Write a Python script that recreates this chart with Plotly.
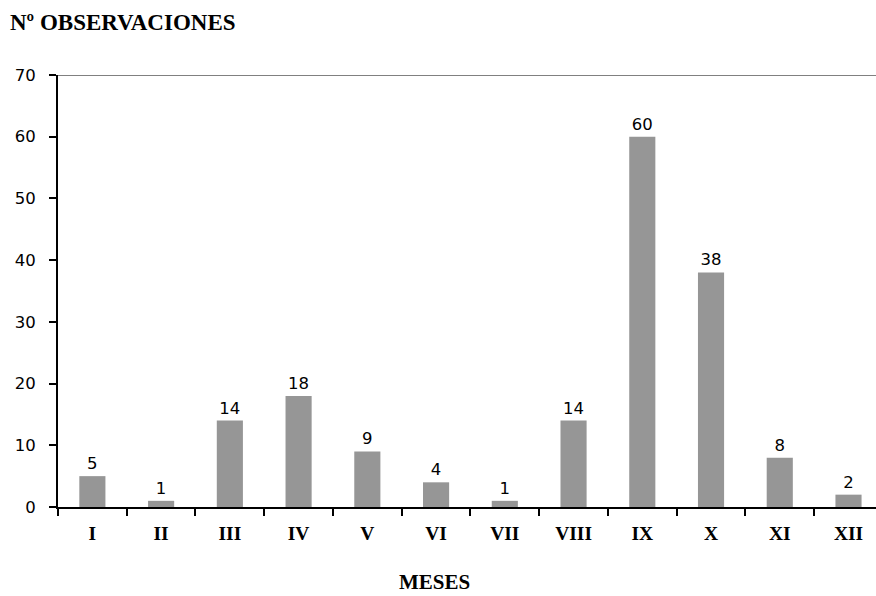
import plotly.graph_objects as go

meses = ["I", "II", "III", "IV", "V", "VI", "VII", "VIII", "IX", "X", "XI", "XII"]
observaciones = [5, 1, 14, 18, 9, 4, 1, 14, 60, 38, 8, 2]
y_ticks = [0, 10, 20, 30, 40, 50, 60, 70]

fig = go.Figure()
fig.add_trace(go.Bar(
    x=meses, y=observaciones, width=0.38,
    marker=dict(color="#969696", line=dict(width=0)),
    text=[str(v) for v in observaciones], textposition="outside",
    textfont=dict(family="DejaVu Sans", size=16.5, color="black"),
    cliponaxis=False,
))

fig.add_shape(type="line", xref="paper", yref="y", x0=0, x1=1, y0=70, y1=70,
              line=dict(color="#808080", width=2))

fig.add_annotation(text="<b>Nº OBSERVACIONES</b>", xref="paper", yref="paper",
                   x=-50/818, y=1 + (75-22)/432, xanchor="left", yanchor="middle",
                   showarrow=False, font=dict(family="Liberation Serif", size=23, color="black"))
fig.add_annotation(text="<b>MESES</b>", xref="paper", yref="paper",
                   x=(434-58)/818, y=-(582-507)/432, xanchor="center", yanchor="middle",
                   showarrow=False, borderpad=0,
                   font=dict(family="Liberation Serif", size=21, color="black"))

fig.update_layout(
    width=876, height=596,
    margin=dict(l=58, r=0, t=75, b=89),
    plot_bgcolor="white", paper_bgcolor="white",
    showlegend=False,
    xaxis=dict(
        range=[-0.5, 11.4], showline=True, linecolor="black", linewidth=2,
        ticks="outside", tickson="boundaries", ticklen=7, tickwidth=2, tickcolor="black",
        tickfont=dict(family="Liberation Serif", size=19.5, color="black"),
        ticklabelstandoff=8,
        showgrid=False, zeroline=False,
    ),
    yaxis=dict(
        range=[0, 70], tickvals=y_ticks, showline=True, linecolor="black", linewidth=2,
        ticks="outside", ticklen=7, tickwidth=2, tickcolor="black",
        tickfont=dict(family="DejaVu Sans", size=16.5, color="black"),
        ticklabelstandoff=10,
        showgrid=False, zeroline=False,
    ),
)

fig.update_xaxes(tickprefix="<b>", ticksuffix="</b>")

fig.write_html("out.html", config={"displayModeBar": False},
               post_script="document.body.style.margin='0';document.body.style.overflow='hidden';")
